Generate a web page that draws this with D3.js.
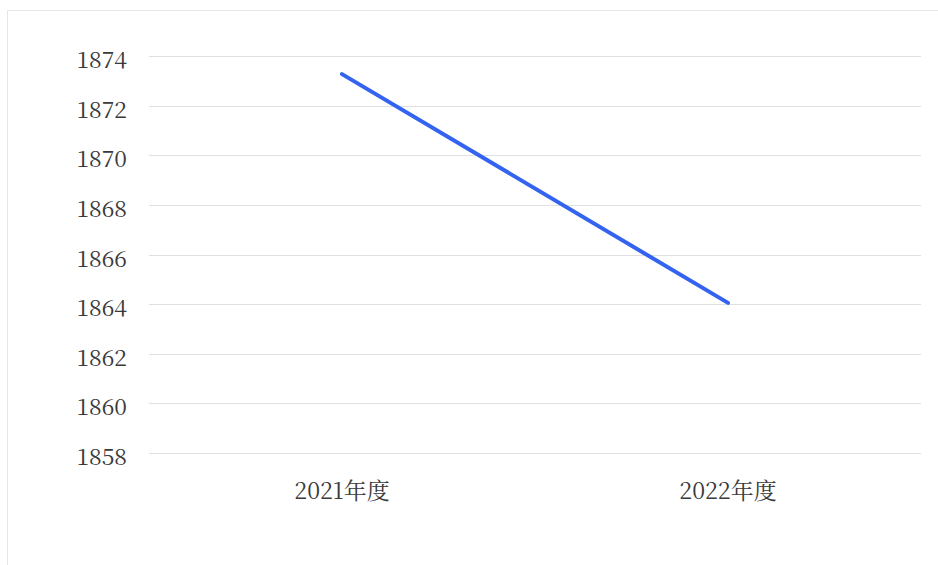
<!DOCTYPE html>
<html>
<head>
<meta charset="utf-8">
<script src="https://cdn.jsdelivr.net/npm/d3@7"></script>
<style>
  body { margin: 0; background: #fff; }
</style>
</head>
<body>
<div id="chart"></div>
<script>
const categories = ["2021年度", "2022年度"];
const values = [1873.27, 1864.05];
const yTicks = [1858, 1860, 1862, 1864, 1866, 1868, 1870, 1872, 1874];

const W = 938, H = 565;
const margin = { top: 56, right: 17, bottom: 112, left: 149 };
const width = W - margin.left - margin.right;
const height = H - margin.top - margin.bottom;
const police = "'Noto Serif CJK SC', 'Liberation Serif', serif";

const svg = d3.select("#chart").append("svg")
    .attr("width", W)
    .attr("height", H);

// cadre
svg.append("rect")
    .attr("x", 7.5).attr("y", 10.5)
    .attr("width", 1000).attr("height", 1000)
    .attr("fill", "none")
    .attr("stroke", "#e6e6e6");

const g = svg.append("g").attr("transform", `translate(${margin.left},${margin.top})`);

const x = d3.scaleBand().domain(categories).range([0, width]);
const y = d3.scaleLinear().domain([1858, 1874]).range([height, 0]);

// grille
g.selectAll(".grid")
    .data(yTicks)
    .enter()
    .append("line")
    .attr("class", "grid")
    .attr("x1", 0).attr("x2", width)
    .attr("y1", d => Math.round(y(d)) + 0.5)
    .attr("y2", d => Math.round(y(d)) + 0.5)
    .attr("stroke", "#e0e0e0")
    .attr("stroke-width", 1);

// axe y
const yAxis = g.append("g")
    .call(d3.axisLeft(y).tickValues(yTicks).tickFormat(d3.format("d")).tickSize(0).tickPadding(22));
yAxis.select(".domain").remove();
yAxis.selectAll("text")
    .style("font-family", police)
    .style("font-size", "23px")
    .style("fill", "#3a3a3a")
    .attr("dy", "0.5em");

// axe x
const xAxis = g.append("g")
    .attr("transform", `translate(0,${height})`)
    .call(d3.axisBottom(x).tickSize(0).tickPadding(30));
xAxis.select(".domain").remove();
xAxis.selectAll("text")
    .style("font-family", police)
    .style("font-size", "23px")
    .style("fill", "#3a3a3a");

// ligne
const line = d3.line()
    .x((d, i) => x(categories[i]) + x.bandwidth() / 2)
    .y(d => y(d));

g.append("path")
    .datum(values)
    .attr("d", line)
    .attr("fill", "none")
    .attr("stroke", "#3363ef")
    .attr("stroke-width", 4)
    .attr("stroke-linecap", "round");
</script>
</body>
</html>
